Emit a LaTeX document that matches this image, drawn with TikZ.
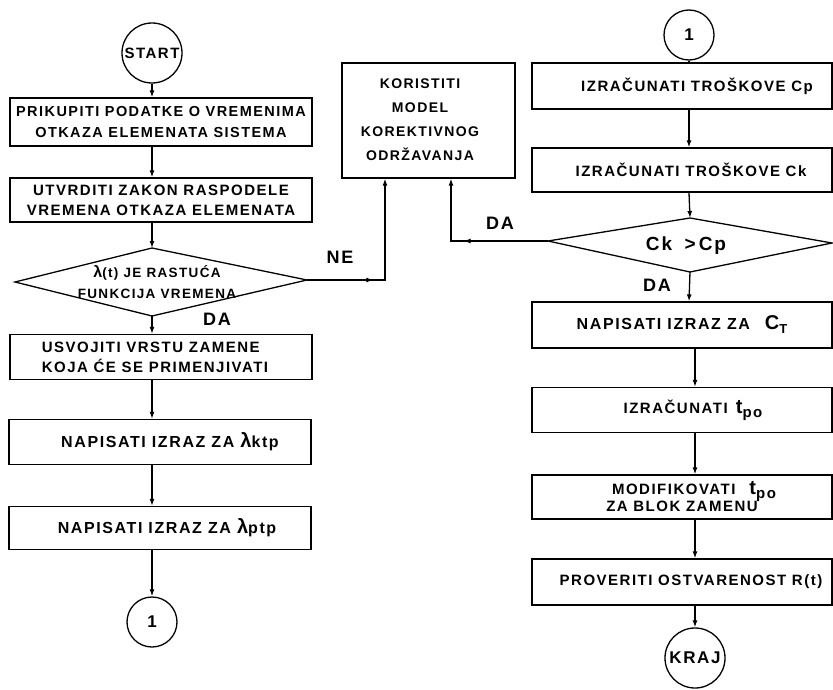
\documentclass[tikz,border=0pt]{standalone}
\usepackage{fontspec}
\setmainfont{Liberation Sans}[LetterSpace=10]
\usetikzlibrary{arrows.meta,decorations.markings}
\tikzset{
  txt/.style={font=\bfseries\fontsize{15}{20}\selectfont},
  stepbox/.style={draw, line width=1.3pt, inner sep=0pt, align=center, txt},
  ring/.style={draw, circle, line width=1.3pt, inner sep=0pt, txt},
  conn/.style={line width=1.3pt},
  arr/.style={conn, -{Latex[length=7pt,width=5pt]}},
  midarr/.style={postaction={decorate}, decoration={markings, mark=at position #1 with {\arrow{Latex[length=7pt,width=5pt]}}}},
  lbl/.style={font=\bfseries\fontsize{18}{20}\selectfont},
}
\newcommand\lam{{\fontsize{20}{20}\selectfont λ}}
\newcommand\tpo{{\fontsize{20}{20}\selectfont t}\raisebox{-4pt}{\fontsize{15}{15}\selectfont po}}
\begin{document}
\begin{tikzpicture}[x=1pt,y=-1pt]
\useasboundingbox (0,0) rectangle (833,690);
% ---------------- left column
\node[ring, minimum size=60pt] (start) at (152,53) {START};
\node[stepbox, minimum width=302pt, minimum height=48pt, font=\bfseries\fontsize{14.5}{21}\selectfont] (b1) at (161,122)
  {PRIKUPITI PODATKE O VREMENIMA\\OTKAZA ELEMENATA SISTEMA};
\node[stepbox, minimum width=302pt, minimum height=44pt] (b2) at (161,200)
  {UTVRDITI ZAKON RASPODELE\\VREMENA OTKAZA ELEMENATA};
% diamond 1
\coordinate (d1t) at (152,248);
\coordinate (d1r) at (307,280);
\coordinate (d1b) at (152,316);
\coordinate (d1l) at (15,282);
\draw[conn] (d1l) -- (d1t) -- (d1r) -- (d1b) -- cycle;
\node[txt, align=center, font=\bfseries\fontsize{13.5}{21}\selectfont] (d1) at (157,282) {{\fontsize{16}{16}\selectfont λ}(t) JE RASTUĆA\\FUNKCIJA VREMENA};
\node[stepbox, minimum width=302pt, minimum height=45pt, align=left] (b3) at (161,357)
  {USVOJITI VRSTU ZAMENE\\KOJA ĆE SE PRIMENJIVATI\hspace*{12pt}};
\node[stepbox, minimum width=302pt, minimum height=45pt, font=\bfseries\fontsize{16}{20}\selectfont] (b4) at (160,442)
  {\hspace*{20pt}NAPISATI IZRAZ ZA \lam ktp};
\node[stepbox, minimum width=302pt, minimum height=43pt, font=\bfseries\fontsize{16}{20}\selectfont] (b5) at (160,528)
  {\hspace*{14pt}NAPISATI IZRAZ ZA \lam ptp};
\node[ring, minimum size=50pt, font=\bfseries\fontsize{17}{17}\selectfont] (c1) at (152,622) {1};
% left connectors
\draw[arr] (start.south) -- (b1.north -| start);
\draw[arr] (b1.south -| start) -- (b2.north -| start);
\draw[arr] (b2.south -| start) -- (d1t);
\draw[arr] (d1b) -- (b3.north -| start);
\draw[arr] (b3.south -| start) -- (b4.north -| start);
\draw[arr] (b4.south -| start) -- (b5.north -| start);
\draw[arr] (b5.south -| start) -- (c1.north);
\node[lbl] (ne) at (340,257) {NE};
\node[lbl] (da1) at (217,319) {DA};
% ---------------- middle box
\node[draw, line width=1.3pt, minimum width=173pt, minimum height=115pt, inner sep=0pt] (kor) at (428.5,120.5) {};
\node[txt, align=center, font=\bfseries\fontsize{14}{24}\selectfont] (kortxt) at (420,120) {KORISTITI\\MODEL\\KOREKTIVNOG\\ODRŽAVANJA};
\coordinate (nec) at (385,280);
\draw[arr, midarr=0.37] (d1r) -- (nec) -- (kor.south -| nec);
% ---------------- right column
\node[ring, minimum size=50pt, font=\bfseries\fontsize{17}{17}\selectfont] (r1) at (689,35) {1};
\node[stepbox, minimum width=300pt, minimum height=46pt] (cp) at (682,86)
  {\hspace*{30pt}IZRAČUNATI TROŠKOVE Cp};
\node[stepbox, minimum width=300pt, minimum height=44pt] (ck) at (682,170)
  {\hspace*{18pt}IZRAČUNATI TROŠKOVE Ck};
\coordinate (d2t) at (690,218);
\coordinate (d2r) at (832,243);
\coordinate (d2b) at (690,272);
\coordinate (d2l) at (548,241);
\draw[conn] (d2l) -- (d2t) -- (d2r) -- (d2b) -- cycle;
\node[txt, font=\bfseries\fontsize{19}{20}\selectfont] (d2) at (686,246) {Ck \;>\,Cp};
\node[stepbox, minimum width=300pt, minimum height=46pt, font=\bfseries\fontsize{16}{20}\selectfont] (ct) at (682,325)
  {NAPISATI IZRAZ ZA \;\;{\fontsize{20}{20}\selectfont C}\raisebox{-4pt}{\fontsize{13}{13}\selectfont T}};
\node[stepbox, minimum width=300pt, minimum height=45pt] (tp) at (682,410)
  {\hspace*{22pt}IZRAČUNATI \,\tpo};
\node[stepbox, minimum width=300pt, minimum height=44pt] (mo) at (682,497)
  {\hspace*{24pt}MODIFIKOVATI \;\;\tpo\\[-3pt]ZA BLOK ZAMENU};
\node[stepbox, minimum width=300pt, minimum height=46pt] (pr) at (682,582)
  {\hspace*{18pt}PROVERITI OSTVARENOST R(t)};
\node[ring, minimum size=60pt, font=\bfseries\fontsize{17}{17}\selectfont] (kraj) at (695,658) {KRAJ};
% right connectors
\draw[conn] (r1.south) -- (cp.north -| r1);
\draw[arr] (cp.south -| r1) -- (ck.north -| r1);
\draw[arr] (ck.south -| r1) -- (d2t);
\draw[arr] (d2b) -- (ct.north -| r1);
\draw[arr] (ct.south -| kraj) -- (tp.north -| kraj);
\draw[arr] (tp.south -| kraj) -- (mo.north -| kraj);
\draw[arr] (mo.south -| kraj) -- (pr.north -| kraj);
\draw[arr] (pr.south -| kraj) -- (kraj.north);
\coordinate (dac) at (451,241);
\draw[arr, midarr=0.53] (d2l) -- (dac) -- (kor.south -| dac);
\node[lbl] (da2) at (500,223) {DA};
\node[lbl] (da3) at (657,285) {DA};
\end{tikzpicture}
\end{document}
